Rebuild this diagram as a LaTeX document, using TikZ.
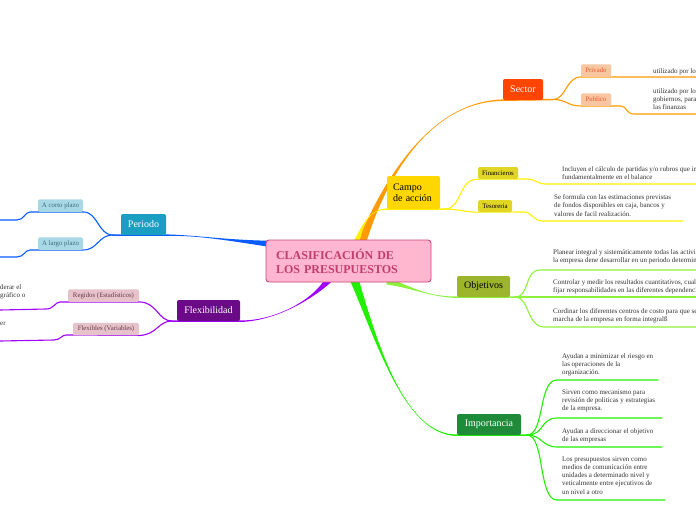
\documentclass[tikz,border=0pt]{standalone}
\usepackage{fontspec}
\setmainfont{Liberation Serif}
\usetikzlibrary{calc,backgrounds}
\definecolor{rootpink}{HTML}{FFB6CE}
\definecolor{rootedge}{HTML}{C8457A}
\definecolor{rootfont}{HTML}{C23D6B}
\definecolor{sectorred}{HTML}{FF4500}
\definecolor{orangeline}{HTML}{FF9A00}
\definecolor{peach}{HTML}{F8C6A0}
\definecolor{peachfont}{HTML}{E8552B}
\definecolor{campogold}{HTML}{FFD700}
\definecolor{yellowline}{HTML}{FFF000}
\definecolor{tagyellow}{HTML}{E2D624}
\definecolor{olive}{HTML}{9CB52C}
\definecolor{limeline}{HTML}{8CF23C}
\definecolor{impgreen}{HTML}{1E8A3A}
\definecolor{greenline}{HTML}{22F000}
\definecolor{tealbox}{HTML}{1A9EC2}
\definecolor{blueline}{HTML}{0A5CFF}
\definecolor{lightblue}{HTML}{A8D8E6}
\definecolor{bluefont}{HTML}{3E6A7C}
\definecolor{flexpurple}{HTML}{6A0A86}
\definecolor{violetline}{HTML}{A000FF}
\definecolor{rosetag}{HTML}{E6C3CB}
\definecolor{rosefont}{HTML}{6A3848}
\definecolor{notegray}{HTML}{333333}
\newcommand*{\Taper}[6]{% #1 = colour, #2 = start, #3/#4 = controls, #5 = end, #6 = half width at start
\fill [#1] ($(#2)-(#6)$) .. controls (#3) and (#4) .. ($(#5)+(0,0.8)$)
-- ($(#5)-(0,0.8)$) .. controls (#4) and (#3) .. ($(#2)+(#6)$) -- cycle;
}

\begin{document}
\begin{tikzpicture}[x=1pt,y=-1pt,
    topic/.style={rounded corners=2pt, inner sep=2pt, minimum height=21pt, font=\fontsize{10}{11}\selectfont},
    tag/.style={rounded corners=1.5pt, inner sep=1.5pt, minimum height=12.5pt, font=\fontsize{6.8}{7}\selectfont},
    note/.style={anchor=north west, inner sep=0pt, align=left, text=notegray, font=\fontsize{7}{8.2}\selectfont},
    twig/.style={line width=1.1pt, line cap=round}]

    \useasboundingbox (0,0) rectangle (696,520);

    % centre and main topics
    \node [fill=rootpink, draw=rootedge, line width=0.9pt, rounded corners=3pt,
        text width=145pt, inner xsep=10pt, inner ysep=5pt, minimum height=42pt,
        align=left, text=rootfont, font=\bfseries\fontsize{12}{14}\selectfont]
        (root) at (348.5,261) {CLASIFICACIÓN DE\\LOS PRESUPUESTOS};
    \node [topic, fill=sectorred, text=white, minimum width=40pt] (sector) at (523,89.5) {Sector};
    \node [topic, fill=campogold, minimum height=33pt, text width=41pt, inner xsep=6pt,
        align=left] (campo) at (413.5,192.5) {Campo\\de acción};
    \node [topic, fill=olive, minimum width=53pt] (objetivos) at (483.5,286.5) {Objetivos};
    \node [topic, fill=impgreen, text=white, minimum width=64pt] (importancia) at (489,424.5) {Importancia};
    \node [topic, fill=tealbox, text=white, minimum width=45pt] (periodo) at (143.5,224.5) {Periodo};
    \node [topic, fill=flexpurple, text=white, minimum width=63pt] (flexibilidad) at (208.5,310.5) {Flexibilidad};

    % small tags
    \node [tag, fill=peach, text=peachfont, minimum width=30pt] (privado) at (596,70.5) {Privado};
    \node [tag, fill=peach, text=peachfont, minimum width=30pt] (publico) at (596,99.5) {Publico};
    \node [tag, fill=tagyellow, minimum width=40pt, minimum height=12pt] (financieros) at (498,173) {Financieros};
    \node [tag, fill=tagyellow, minimum width=34pt, minimum height=12pt] (tesoreria) at (495,206) {Tesoreria};
    \node [tag, fill=lightblue, text=bluefont, minimum width=45pt] (corto) at (60.5,205.5) {A corto plazo};
    \node [tag, fill=lightblue, text=bluefont, minimum width=45pt] (largo) at (60.5,243.5) {A largo plazo};
    \node [tag, fill=rosetag, text=rosefont, minimum width=71pt] (regidos) at (103.5,295.5) {Regidos (Estadísticos)};
    \node [tag, fill=rosetag, text=rosefont, minimum width=66pt] (flexibles) at (106,329) {Flexibles (Variables)};

    % texts
    \node [note] (nPrivado) at (653,68) {utilizado por lo};
    \node [note] (nPublico) at (653,88.5) {utilizado por lo\\gobiernos, para\\las finanzas};
    \node [note] (nFinan) at (562,166.5) {Incluyen el cálculo de partidas y/o rubros que in\\fundamentalmente en el balance};
    \node [note] (nTeso) at (554,194.5) {Se formula con las estimaciones previstas\\de fondos disponibles en caja, bancos y\\valores de facil realización.};
    \node [note] (nObjA) at (553,249.5) {Planear integral y sistemáticamente todas las activi\\la empresa dene desarrollar en un periodo determin};
    \node [note] (nObjB) at (553,279.5) {Controlar y medir los resultados cuantitativos, cual\\fijar responsabilidades en las diferentes dependenci};
    \node [note] (nObjC) at (553,308.5) {Cordinar los diferentes centros de costo para que se\\marcha de la empresa en forma integralß};
    \node [note] (nImpA) at (562,353.5) {Ayudan a minimizar el riesgo en\\las operaciones de la\\organización.};
    \node [note] (nImpB) at (562,389.5) {Sirven como mecanismo para\\revisión de politicas y estrategias\\de la empresa.};
    \node [note] (nImpC) at (562,428.5) {Ayudan a direccionar el objetivo\\de las empresas};
    \node [note] (nImpD) at (562,456.5) {Los presupuestos sirven como\\medios de comunicación entre\\unidades a determinado nivel y\\veticalmente entre ejecutivos de\\un nivel a otro};
    \node [note] (nRegidos) at (0,284.5) {derar el\\gráfico o};
    \node [note] (nFlexibles) at (0,321.5) {er};

    % where the branches leave the centre, fork and end
    \path (root.north) ++(13.5,2) coordinate (sOrange);
    \path (root.north) ++(8,2) coordinate (sCampo);
    \path (root.south) ++(38,-2) coordinate (sObj);
    \path (root.south) ++(6,-2) coordinate (sImp);
    \path (root.west) ++(6,-17) coordinate (sPer);
    \path (root.south) ++(-20,-2) coordinate (sFlex);
    \foreach \n/\x/\y in {sFork/553/99.5, cFork/445/209, oFork/515/297, iFork/527/435,
        pFork/113/235, fFork/172/321}
        \coordinate (\n) at (\x,\y);
    \foreach \n/\x/\y in {privEnd/696/77, pubEnd/696/114, finEnd/696/184, tesEnd/683/221,
        objA/696/270, objB/696/297, objC/696/327, impA/658/380, impB/662/418,
        impC/662/447, impD/665/500, cortoEnd/0/220, largoEnd/0/257, regEnd/0/310, flexEnd/0/341}
        \coordinate (\n) at (\x,\y);

    \begin{pgfonlayer}{background}
        \fill [white] (0,0) rectangle (696,520);

        \Taper{orangeline}{sOrange}{392,160}{440,101}{sector.south west}{-4.5,0}
        \Taper{yellowline}{sCampo}{364,222}{370,209}{campo.south west}{-3,0}
        \Taper{limeline}{sObj}{412,288}{430,297}{objetivos.south west}{0,-4}
        \Taper{greenline}{sImp}{378,345}{405,435}{importancia.south west}{4.5,0}
        \Taper{blueline}{sPer}{225,240}{195,235}{periodo.south east}{0,-3.2}
        \Taper{violetline}{sFlex}{312,300}{275,321}{flexibilidad.south east}{-4.5,0}

        \draw [line width=1.5pt, orangeline] (sector.south west) -- (sFork);
        \draw [line width=1.5pt, yellowline] (campo.south west) -- (cFork);
        \draw [line width=1.5pt, limeline] (objetivos.south west) -- (oFork);
        \draw [line width=1.5pt, greenline] (importancia.south west) -- (iFork);
        \draw [line width=1.5pt, blueline] (periodo.south east) -- (pFork);
        \draw [line width=1.5pt, violetline] (flexibilidad.south east) -- (fFork);

        % Sector
        \draw [twig, orangeline] (sFork) .. controls (566,99.5) and (566,77) .. (privado.south west) -- (privEnd);
        \draw [twig, orangeline] (sFork) .. controls (567,99.5) and (567,106) .. (publico.south west)
            -- ++(40,0) .. controls +(6,0) and (626,114) .. (634,114) -- (pubEnd);
        % Campo de accion
        \draw [twig, yellowline] (cFork) .. controls (462,209) and (458,179) .. (financieros.south west)
            -- (528,179) .. controls (535,179) and (537,184) .. (546,184) -- (finEnd);
        \draw [twig, yellowline] (cFork) .. controls (458,209) and (464,212) .. (tesoreria.south west)
            -- (524,212) .. controls (532,212) and (533,221) .. (543,221) -- (tesEnd);
        % Objetivos
        \draw [twig, limeline] (oFork) .. controls (530,297) and (524,270) .. (540,270) -- (objA);
        \draw [twig, limeline] (oFork) -- (objB);
        \draw [twig, limeline] (oFork) .. controls (530,297) and (526,327) .. (545,327) -- (objC);
        % Importancia
        \draw [twig, greenline] (iFork) .. controls (545,435) and (538,380) .. (557,380) -- (impA);
        \draw [twig, greenline] (iFork) .. controls (545,435) and (540,418) .. (557,418) -- (impB);
        \draw [twig, greenline] (iFork) .. controls (542,435) and (542,447) .. (557,447) -- (impC);
        \draw [twig, greenline] (iFork) .. controls (545,435) and (538,500) .. (557,500) -- (impD);
        % Periodo
        \draw [twig, blueline] (pFork) .. controls (98,235) and (98,212) .. (corto.south east)
            -- (30,212) .. controls (25,212) and (24,220) .. (17,220) -- (cortoEnd);
        \draw [twig, blueline] (pFork) .. controls (98,235) and (98,250) .. (largo.south east)
            -- (30,250) .. controls (25,250) and (24,257) .. (17,257) -- (largoEnd);
        % Flexibilidad
        \draw [twig, violetline] (fFork) .. controls (158,321) and (157,302) .. (regidos.south east)
            -- (60,302) .. controls (55,302) and (54,309) .. (46,309) -- (regEnd);
        \draw [twig, violetline] (fFork) .. controls (158,321) and (157,335) .. (flexibles.south east)
            -- (66,335) .. controls (62,335) and (60,340) .. (54,340) -- (flexEnd);
    \end{pgfonlayer}
\end{tikzpicture}
\end{document}
